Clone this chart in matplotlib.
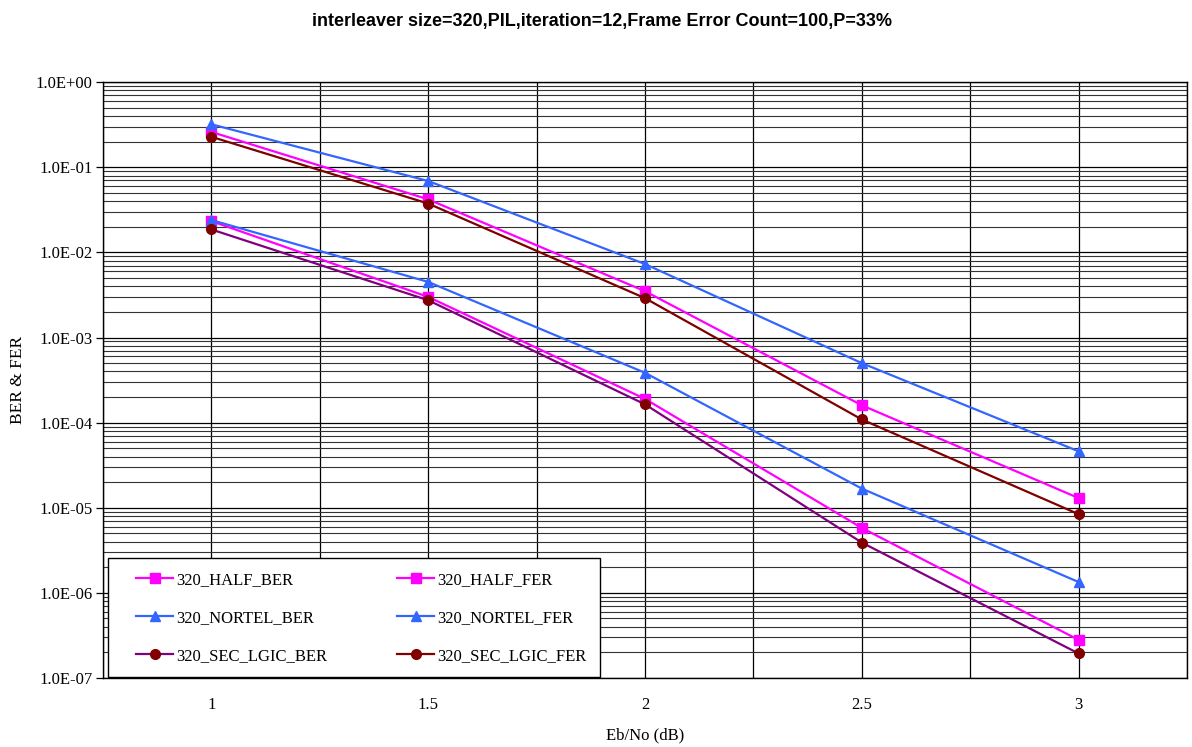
import numpy as np
import matplotlib
matplotlib.use("Agg")
import matplotlib.pyplot as plt
from matplotlib.lines import Line2D
from matplotlib.legend_handler import HandlerLine2D
from matplotlib.ticker import FixedLocator, LogLocator, NullFormatter, FuncFormatter

# ---------------------------------------------------------------------------
# data
# ---------------------------------------------------------------------------
ebno = [1.0, 1.5, 2.0, 2.5, 3.0]

half_ber = [2.33e-2, 3.0e-3, 1.9e-4, 5.8e-6, 2.8e-7]
half_fer = [2.6e-1, 4.2e-2, 3.5e-3, 1.6e-4, 1.3e-5]
nortel_ber = [2.4e-2, 4.5e-3, 3.85e-4, 1.68e-5, 1.34e-6]
nortel_fer = [3.2e-1, 6.9e-2, 7.3e-3, 5.0e-4, 4.6e-5]
sec_ber = [1.86e-2, 2.74e-3, 1.64e-4, 3.9e-6, 1.94e-7]
sec_fer = [2.28e-1, 3.75e-2, 2.9e-3, 1.09e-4, 8.4e-6]

labels = ["320_HALF_BER", "320_NORTEL_BER", "320_SEC_LGIC_BER",
          "320_HALF_FER", "320_NORTEL_FER", "320_SEC_LGIC_FER"]
series = [half_ber, nortel_ber, sec_ber, half_fer, nortel_fer, sec_fer]

x_ticks = [1, 1.5, 2, 2.5, 3]
x_grid = [0.75, 1.0, 1.25, 1.5, 1.75, 2.0, 2.25, 2.5, 2.75, 3.0, 3.25]

MAG, BLUE, DRED, PURP = "#FF00FF", "#3366FF", "#800000", "#800080"
styles = [
    dict(color=MAG, marker="s", mfc=MAG, mec=MAG),
    dict(color=BLUE, marker="^", mfc=BLUE, mec=BLUE),
    dict(color=PURP, marker="o", mfc=DRED, mec=DRED),
    dict(color=MAG, marker="s", mfc=MAG, mec=MAG),
    dict(color=BLUE, marker="^", mfc=BLUE, mec=BLUE),
    dict(color=DRED, marker="o", mfc=DRED, mec=DRED),
]

serif = ["Liberation Serif", "DejaVu Serif"]

fig = plt.figure(figsize=(11.92, 7.47), dpi=100)
ax = fig.add_axes([0.0864, 0.0924, 0.9094, 0.7976])

for y, lab, st in zip(series, labels, styles):
    ax.plot(ebno, y, lw=1.6, ms=7, label=lab, **st, zorder=3)

ax.set_yscale("log")
ax.set_ylim(1e-7, 1.0)
ax.set_xlim(0.75, 3.25)

# grid
for xg in x_grid:
    ax.axvline(xg, color="black", lw=0.9, zorder=1)
ax.yaxis.set_major_locator(LogLocator(base=10, numticks=20))
ax.yaxis.set_minor_locator(LogLocator(base=10, subs=np.arange(2, 10), numticks=20))
ax.yaxis.set_minor_formatter(NullFormatter())
ax.yaxis.set_major_formatter(FuncFormatter(
    lambda v, p: "1.0E%+03d" % int(round(np.log10(v)))))
ax.grid(True, which="major", axis="y", color="black", lw=0.9, zorder=1)
ax.grid(True, which="minor", axis="y", color="#333333", lw=0.8, zorder=1)

ax.xaxis.set_major_locator(FixedLocator(x_ticks))
ax.set_xticklabels([str(v) if v != int(v) else str(int(v)) for v in x_ticks])
ax.tick_params(axis="x", length=0, pad=14)
ax.tick_params(axis="y", which="major", length=5, direction="out", width=0.9, pad=2.5)
ax.tick_params(axis="y", which="minor", length=0)
for lab in ax.get_xticklabels() + ax.get_yticklabels():
    lab.set_family(serif)
    lab.set_fontsize(12)
for sp in ax.spines.values():
    sp.set_linewidth(1.0)

ax.set_xlabel("Eb/No (dB)", family=serif, fontsize=12, labelpad=10)
ax.set_ylabel("BER & FER", family=serif, fontsize=12.5, labelpad=7)
fig.suptitle("interleaver size=320,PIL,iteration=12,Frame Error Count=100,P=33%",
             family=["Liberation Sans", "DejaVu Sans"], fontweight="bold",
             fontsize=13, x=0.505, y=0.983)

leg = ax.legend(loc="lower left", bbox_to_anchor=(0.0046, 0.0015), ncol=2,
                borderaxespad=0,
                prop={"family": serif, "size": 12}, frameon=True, fancybox=False,
                edgecolor="black", framealpha=1.0, borderpad=0.8,
                labelspacing=1.32, columnspacing=3.3, handlelength=3.1,
                handletextpad=0.2,
                handler_map={Line2D: HandlerLine2D(xpad=0.9)})
leg.get_frame().set_linewidth(1.0)
leg.set_zorder(5)

fig.savefig("out.png", dpi=100)
